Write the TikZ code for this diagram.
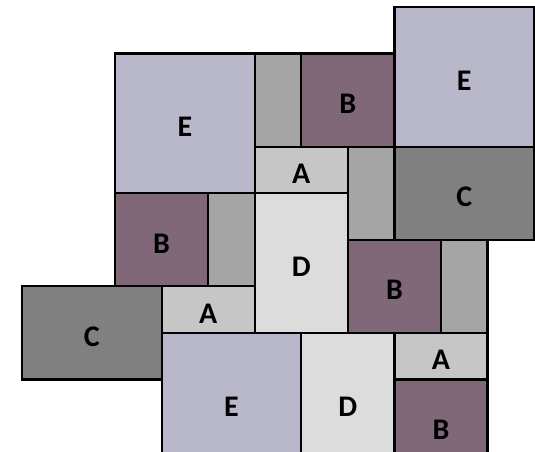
\documentclass[tikz,border=0pt]{standalone}
\usepackage{fontspec}
\setmainfont{Carlito}
\definecolor{colE}{HTML}{B8B8CA}
\definecolor{colB}{HTML}{806878}
\definecolor{colA}{HTML}{C6C6C6}
\definecolor{colD}{HTML}{DCDCDC}
\definecolor{colC}{HTML}{808080}
\definecolor{colS}{HTML}{A5A5A5}
\tikzset{
  tile/.style={draw=black, line width=2.2pt, inner sep=0pt, outer sep=0pt,
    font=\bfseries\fontsize{30}{30}\selectfont, text=black,
    text height=27pt, text depth=0pt},
  w1/.style={minimum width=46.67pt}, w2/.style={minimum width=93.33pt}, w3/.style={minimum width=140pt},
  h1/.style={minimum height=46.67pt}, h2/.style={minimum height=93.33pt}, h3/.style={minimum height=140pt},
  tE/.style={tile, fill=colE, w3, h3},
  tB/.style={tile, fill=colB, w2, h2},
  tA/.style={tile, fill=colA, w2, h1},
  tD/.style={tile, fill=colD, w2, h3},
  tC/.style={tile, fill=colC, w3, h2},
  tS/.style={tile, fill=colS, w1, h2},
}
\begin{document}
\begin{tikzpicture}[x=46.67pt, y=-46.67pt]
\useasboundingbox (-0.4714,-0.15) rectangle (11.02,9.557);
\clip (-0.4714,-0.15) rectangle (11.02,9.557);
\node[tE] (e1) at (3.5,2.5) {E};
\node[tS] (s1) at (5.5,2) {};
\node[tB] (b1) at (7,2) {B};
\node[tE] (e2) at (9.5,1.5) {E};
\node[tA] (a1) at (6,3.5) {A};
\node[tS] (s2) at (7.5,4) {};
\node[tC] (c1) at (9.5,4) {C};
\node[tB] (b2) at (3,5) {B};
\node[tS] (s3) at (4.5,5) {};
\node[tD] (d1) at (6,5.5) {D};
\node[tB] (b3) at (8,6) {B};
\node[tS] (s4) at (9.5,6) {};
\node[tC] (c2) at (1.5,7) {C};
\node[tA] (a2) at (4,6.5) {A};
\node[tE] (e3) at (4.5,8.5) {E};
\node[tD] (d2) at (7,8.5) {D};
\node[tA] (a3) at (9,7.5) {A};
\node[tB] (b4) at (9,9) {B};
\end{tikzpicture}
\end{document}
